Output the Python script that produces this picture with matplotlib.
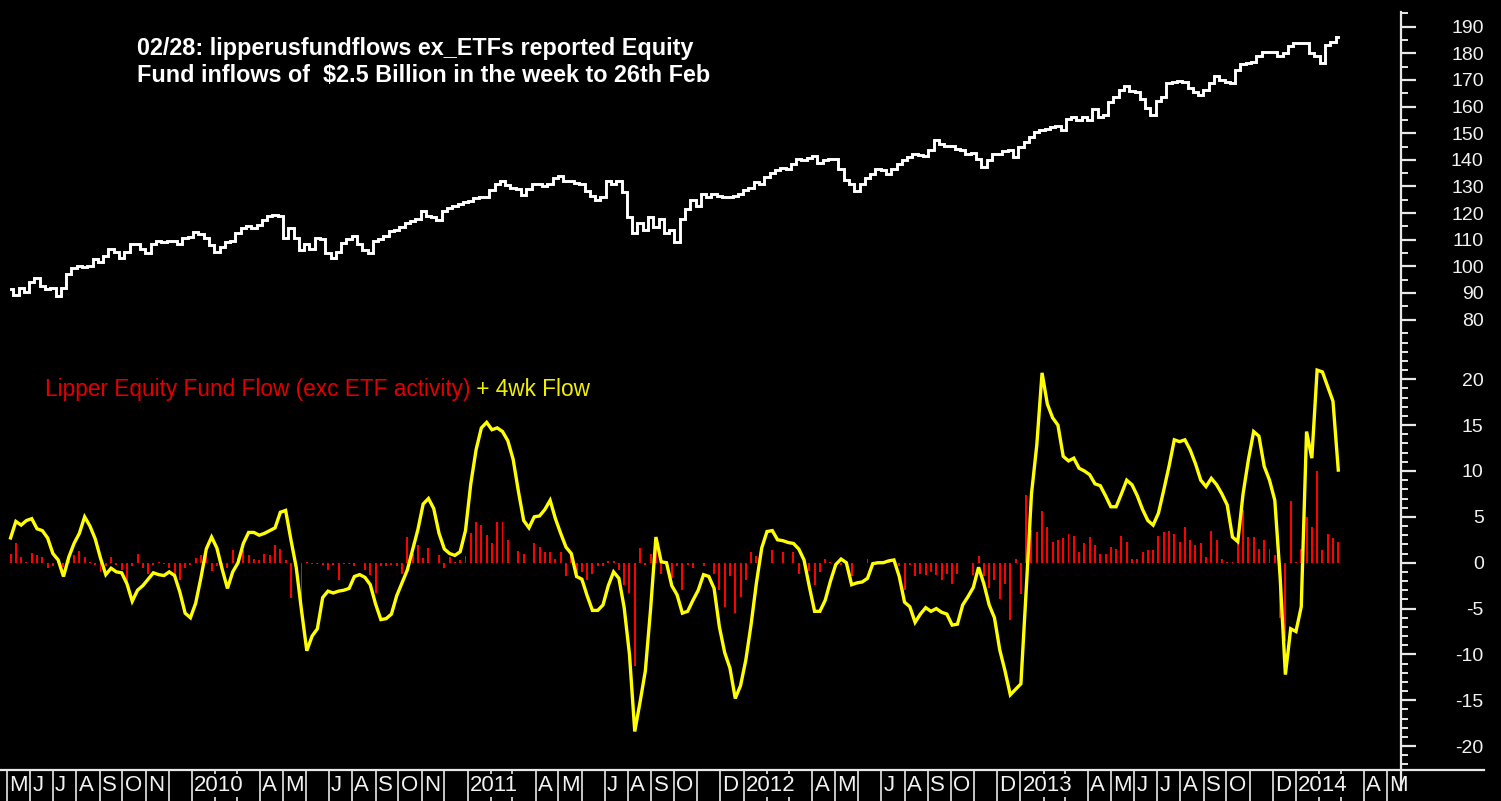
import matplotlib
matplotlib.use("Agg")
import matplotlib.pyplot as plt
import matplotlib.transforms as mtransforms
from matplotlib.lines import Line2D
from matplotlib.ticker import FixedLocator
import pandas as pd

# ---------------- data (weekly, Wednesdays) ----------------
week_start = "2009-05-06"
n_weeks = 252

price = [
    91.4, 89.1, 92.0, 90.2, 94.3, 95.5, 92.6, 91.4, 92.0, 88.7,
    92.0, 97.3, 99.3, 100.2, 99.6, 100.2, 102.6, 101.6, 103.8, 106.7,
    105.5, 103.2, 105.5, 108.5, 108.5, 106.7, 104.9, 108.5, 109.4, 109.0,
    109.6, 109.4, 108.5, 110.8, 111.0, 112.9, 112.2, 110.8, 107.9, 105.5,
    107.3, 109.0, 109.6, 112.6, 114.3, 115.3, 114.3, 115.5, 117.3, 118.8,
    119.3, 119.0, 110.5, 114.3, 110.8, 106.1, 108.5, 106.7, 110.8, 110.2,
    104.9, 103.2, 105.5, 108.7, 110.2, 111.4, 108.5, 106.1, 105.2, 109.6,
    110.4, 111.4, 113.2, 113.7, 114.9, 116.4, 116.9, 117.6, 120.8, 118.8,
    118.4, 117.3, 120.8, 122.0, 122.6, 123.5, 124.0, 124.7, 125.5, 126.1,
    126.1, 128.7, 130.8, 132.0, 130.5, 129.6, 129.0, 126.7, 129.0, 130.8,
    131.0, 130.2, 131.0, 133.1, 134.1, 132.0, 132.0, 131.4, 130.8, 128.4,
    126.3, 124.9, 126.1, 132.0, 130.8, 132.0, 127.8, 118.4, 112.6, 116.1,
    113.7, 118.4, 114.9, 117.9, 112.6, 113.7, 109.0, 117.9, 121.4, 124.9,
    122.6, 127.2, 126.0, 127.0, 126.6, 126.0, 126.0, 126.6, 127.2, 128.7,
    129.5, 131.6, 131.0, 133.5, 135.0, 136.3, 137.0, 136.7, 138.5, 140.3,
    140.0, 140.8, 141.3, 138.8, 139.8, 140.4, 140.4, 136.7, 132.3, 131.0,
    128.2, 131.0, 133.3, 134.8, 136.5, 136.0, 134.8, 136.4, 138.5, 139.8,
    141.0, 142.3, 141.7, 141.3, 143.6, 147.3, 145.8, 145.1, 145.1, 144.2,
    143.6, 142.3, 142.5, 140.4, 137.3, 139.8, 142.3, 142.3, 143.2, 143.6,
    141.0, 144.8, 146.7, 148.6, 150.5, 151.3, 151.7, 152.3, 152.6, 151.1,
    155.5, 155.9, 155.1, 155.9, 155.1, 158.9, 156.1, 156.7, 161.8, 163.4,
    166.4, 167.8, 165.9, 165.5, 163.0, 159.6, 156.7, 162.1, 163.6, 168.7,
    169.3, 169.7, 169.3, 166.8, 165.5, 164.5, 166.4, 168.7, 171.4, 169.9,
    169.3, 168.7, 173.7, 175.8, 176.4, 176.8, 178.9, 180.6, 180.6, 180.6,
    178.9, 180.2, 182.7, 183.7, 183.7, 184.0, 180.0, 178.9, 176.2, 183.1,
    184.3, 186.2,
]

flow = [
    1.0, 2.1, 0.6, 0.1, 1.1, 0.8, 0.6, -0.6, -0.4, 0.5,
    -0.5, 0.5, 0.8, 1.3, 0.6, 0.1, -0.3, -1.0, -0.4, 0.6,
    -0.3, -0.8, -2.2, -0.4, 1.0, -0.6, -1.2, -0.2, 0.1, -0.1,
    -0.6, -1.9, -1.9, -0.6, -0.2, 0.5, 0.8, 1.2, -0.9, -0.4,
    -0.6, -0.6, 1.4, 0.5, 1.4, 0.8, 0.4, 0.3, 0.9, 0.8,
    1.9, 1.5, 0.3, -3.9, -0.8, -5.0, 0.1, -0.1, -0.1, -0.2,
    -0.8, -0.3, -1.9, -0.1, -0.1, -0.4, 0.0, -0.8, -1.3, -3.3,
    -0.4, -0.4, -0.3, -0.4, -1.2, 2.8, 1.0, 1.9, 0.5, 1.6,
    0.0, 0.8, -0.6, 0.6, 0.1, 0.3, 0.7, 3.2, 4.4, 4.1,
    3.0, 2.1, 4.4, 4.4, 2.5, 0.0, 1.3, 0.9, 0.0, 2.1,
    1.7, 1.2, 1.2, 0.4, 1.2, -1.5, 1.0, -1.2, -1.0, -1.9,
    -1.2, -0.4, -0.4, 0.2, 0.2, -0.8, -2.4, -3.3, -11.3, 1.6,
    -0.3, 1.0, 2.5, -1.2, 0.0, -1.7, -0.4, -3.0, -0.3, -0.6,
    0.0, -0.4, 0.0, -1.2, -3.0, -4.8, -1.5, -5.5, -3.7, -1.9,
    1.2, 0.7, 0.0, 0.0, 1.4, 0.0, 1.2, 0.0, 1.2, -1.2,
    0.0, -0.9, -2.4, -1.0, 0.4, 0.1, -0.3, -0.2, 0.0, -1.5,
    0.0, 0.0, 0.4, 0.0, 0.0, 0.0, 0.1, 0.0, -0.4, -3.0,
    -0.3, -1.5, -1.2, -1.3, -1.0, -1.3, -1.9, -1.2, -2.3, -1.2,
    0.0, 0.0, -1.3, 0.7, -1.5, -2.8, -1.9, -4.0, -2.3, -6.3,
    0.4, -3.4, 7.4, 3.6, 3.4, 5.6, 3.9, 2.3, 2.5, 2.7,
    3.1, 2.9, 1.2, 2.1, 2.8, 1.9, 1.0, 1.0, 1.7, 1.5,
    2.9, 2.3, 0.4, 0.4, 1.2, 1.4, 1.4, 2.9, 3.3, 3.5,
    3.1, 2.3, 3.9, 2.5, 1.9, 2.1, 0.6, 3.5, 2.5, 0.4,
    0.1, 0.1, 2.3, 5.7, 2.8, 2.8, 1.5, 2.5, 1.5, 0.8,
    -6.0, -8.5, 6.7, 0.1, 1.5, 5.0, 3.9, 10.0, 1.4, 3.1,
    2.7, 2.3,
]

flow_4wk = [
    2.7, 4.5, 4.1, 4.6, 4.8, 3.7, 3.5, 2.7, 1.0, 0.3,
    -1.5, 0.6, 2.1, 3.2, 5.0, 4.0, 2.6, 0.5, -1.3, -0.6,
    -1.0, -1.1, -2.3, -4.2, -3.0, -2.5, -1.8, -1.1, -1.3, -1.4,
    -1.0, -1.4, -3.2, -5.5, -6.0, -4.4, -1.6, 1.5, 2.8, 1.6,
    -0.7, -2.8, -1.0, 0.0, 2.1, 3.3, 3.3, 3.0, 3.2, 3.5,
    3.8, 5.5, 5.7, 2.5, -0.5, -5.2, -9.6, -8.0, -7.2, -3.8,
    -3.1, -3.3, -3.1, -3.0, -2.8, -1.5, -1.3, -1.6, -2.4, -4.5,
    -6.2, -6.1, -5.6, -3.6, -2.2, -0.8, 1.4, 3.6, 6.4, 7.0,
    5.9, 3.2, 1.5, 1.0, 0.8, 1.2, 3.5, 8.6, 12.3, 14.7,
    15.3, 14.5, 14.7, 14.3, 13.3, 11.3, 7.8, 4.6, 3.8, 5.0,
    5.1, 5.8, 6.8, 4.8, 3.2, 1.7, 1.0, -1.5, -1.8, -3.6,
    -5.2, -5.2, -4.6, -2.5, -1.0, -1.7, -4.9, -10.0, -18.4, -15.2,
    -11.8, -5.0, 2.8, 0.1, 0.0, -2.5, -3.5, -5.5, -5.3, -4.1,
    -3.0, -1.3, -1.5, -2.8, -7.0, -9.8, -11.5, -14.8, -13.4, -10.6,
    -6.7, -2.2, 1.6, 3.4, 3.5, 2.5, 2.4, 2.2, 2.1, 1.5,
    0.3, -2.6, -5.3, -5.3, -4.1, -2.0, -0.2, 0.4, 0.0, -2.4,
    -2.2, -2.1, -1.7, -0.1, 0.0, 0.0, 0.2, 0.3, -1.5, -4.3,
    -4.8, -6.5, -5.6, -4.9, -5.3, -5.0, -5.4, -5.6, -6.8, -6.7,
    -4.6, -3.7, -2.7, -0.5, -2.3, -4.6, -6.0, -9.5, -11.8, -14.4,
    -13.8, -13.2, -3.0, 7.5, 12.8, 20.7, 17.3, 15.8, 15.0, 11.6,
    11.1, 11.4, 10.3, 10.0, 9.6, 8.6, 8.4, 7.3, 6.1, 6.1,
    7.5, 9.0, 8.5, 7.3, 5.8, 4.6, 4.1, 5.4, 7.9, 10.5,
    13.4, 13.2, 13.4, 12.3, 10.8, 9.0, 8.3, 9.2, 8.5, 7.5,
    6.3, 2.8, 2.3, 7.5, 11.2, 14.3, 13.8, 10.5, 9.0, 6.8,
    -1.5, -12.2, -7.2, -7.5, -4.8, 14.3, 11.4, 21.0, 20.8, 19.2,
    17.6, 10.1,
]

# month labels on the time axis (label shown right of the month-start line)
month_label_dates = [
    "2009-05-01", "2009-06-01", "2009-07-01", "2009-08-01", "2009-09-01", "2009-10-01", "2009-11-01",
    "2010-01-01", "2010-04-01", "2010-05-01", "2010-07-01", "2010-08-01", "2010-09-01", "2010-10-01", "2010-11-01",
    "2011-01-01", "2011-04-01", "2011-05-01", "2011-07-01", "2011-08-01", "2011-09-01", "2011-10-01", "2011-12-01",
    "2012-01-01", "2012-04-01", "2012-05-01", "2012-07-01", "2012-08-01", "2012-09-01", "2012-10-01", "2012-12-01",
    "2013-01-01", "2013-04-01", "2013-05-01", "2013-06-01", "2013-07-01", "2013-08-01", "2013-09-01", "2013-10-01", "2013-12-01",
    "2014-01-01", "2014-04-01", "2014-05-01",
]
month_labels = [
    "M", "J", "J", "A", "S", "O", "N",
    "2010", "A", "M", "J", "A", "S", "O", "N",
    "2011", "A", "M", "J", "A", "S", "O", "D",
    "2012", "A", "M", "J", "A", "S", "O", "D",
    "2013", "A", "M", "J", "J", "A", "S", "O", "D",
    "2014", "A", "M",
]

price_ticks = list(range(80, 200, 10))
flow_ticks = list(range(-20, 25, 5))

title_lines = ["02/28: lipperusfundflows ex_ETFs reported Equity",
               "Fund inflows of  $2.5 Billion in the week to 26th Feb"]
legend_red = "Lipper Equity Fund Flow (exc ETF activity)"
legend_yellow = " + 4wk Flow"

# ---------------- figure ----------------
W, H = 1501, 801
fig = plt.figure(figsize=(W / 100, H / 100), dpi=100, facecolor="black")

def px_axes(x0, y0, x1, y1):
    return fig.add_axes([x0 / W, 1 - y1 / H, (x1 - x0) / W, (y1 - y0) / H])

AX_R = 1401
ax_top = px_axes(0, 12, AX_R, 338)
ax_bot = px_axes(0, 338, AX_R, 770)

dates = pd.date_range(week_start, periods=n_weeks, freq="7D")
xmin = pd.Timestamp("2009-04-22")
xmax = pd.Timestamp("2014-05-20")

label_font = ["Liberation Sans", "DejaVu Sans"]
txt_col = "#f2f2f2"

for ax in (ax_top, ax_bot):
    ax.set_facecolor("black")
    ax.set_xlim(xmin, xmax)
    for s in ax.spines.values():
        s.set_visible(False)
    ax.xaxis.set_visible(False)
    ax.yaxis.tick_right()
    ax.tick_params(axis="y", which="major", direction="out", length=10.5, width=1.6,
                   colors="#e8e8e8", labelsize=14, pad=49, labelcolor=txt_col)
    ax.tick_params(axis="y", which="minor", direction="out", length=5, width=1.4,
                   colors="#e8e8e8")

# top panel: price
ax_top.plot(dates, price, color="white", lw=2.1, drawstyle="steps-mid", solid_joinstyle="miter")
ax_top.set_ylim(73.1, 195.5)
ax_top.yaxis.set_major_locator(FixedLocator(price_ticks))
ax_top.yaxis.set_minor_locator(FixedLocator([v + 5 for v in range(70, 195, 10)]))
ax_top.set_yticklabels([str(t) for t in price_ticks])

# bottom panel: flows
ax_bot.bar(dates, flow, width=2.6, color="#ff0000", linewidth=0)
ax_bot.plot(dates, flow_4wk, color="#ffff00", lw=2.4, solid_joinstyle="miter")
ax_bot.set_ylim(-22.6, 24.5)
ax_bot.yaxis.set_major_locator(FixedLocator(flow_ticks))
ax_bot.yaxis.set_minor_locator(FixedLocator([v for v in range(-22, 25) if v % 5 != 0]))
ax_bot.set_yticklabels([str(t) for t in flow_ticks])

for ax in (ax_top, ax_bot):
    for lab in ax.get_yticklabels():
        lab.set_horizontalalignment("right")
        lab.set_family(label_font)

# axis frame lines (right vertical, bottom horizontal)
fig.add_artist(Line2D([AX_R / W, AX_R / W], [1 - 12 / H, 1 - 790 / H], color="#e8e8e8", lw=1.6,
                      transform=fig.transFigure))
fig.add_artist(Line2D([0, 1484 / W], [1 - 770 / H, 1 - 770 / H], color="#e8e8e8", lw=1.6,
                      transform=fig.transFigure))

# month separators and labels
trans = mtransforms.blended_transform_factory(ax_bot.transData, ax_bot.transAxes)
y_line_bot = -(801 - 770) / 432
all_months = pd.date_range("2009-05-01", "2014-05-01", freq="MS")
for m in all_months:
    ax_bot.add_line(Line2D([m, m], [0.0, y_line_bot], color="#e8e8e8", lw=1.2,
                           transform=trans, clip_on=False))
for d, lab in zip(month_label_dates, month_labels):
    ax_bot.text(pd.Timestamp(d) + pd.Timedelta(days=3), -15.5 / 432, lab, transform=trans,
                ha="left", va="center", color=txt_col, fontsize=16, family=label_font,
                clip_on=False, zorder=5,
                bbox=dict(facecolor="black", edgecolor="none", pad=0.6))

# title
for k, line in enumerate(title_lines):
    fig.text(137 / W, 1 - (48 + 27 * k) / H, line, color="white", fontsize=16.8,
             fontweight="bold", family=label_font, ha="left", va="center")

# caption in lower panel
t1 = fig.text(45 / W, 1 - 389 / H, legend_red, color="#e00000", fontsize=16.3,
              family=label_font, ha="left", va="center")
fig.canvas.draw()
bb = t1.get_window_extent()
fig.text(bb.x1 / W, 1 - 389 / H, legend_yellow, color="#f0f000", fontsize=16.3,
         family=label_font, ha="left", va="center")

fig.savefig("out.png", dpi=100, facecolor="black")
